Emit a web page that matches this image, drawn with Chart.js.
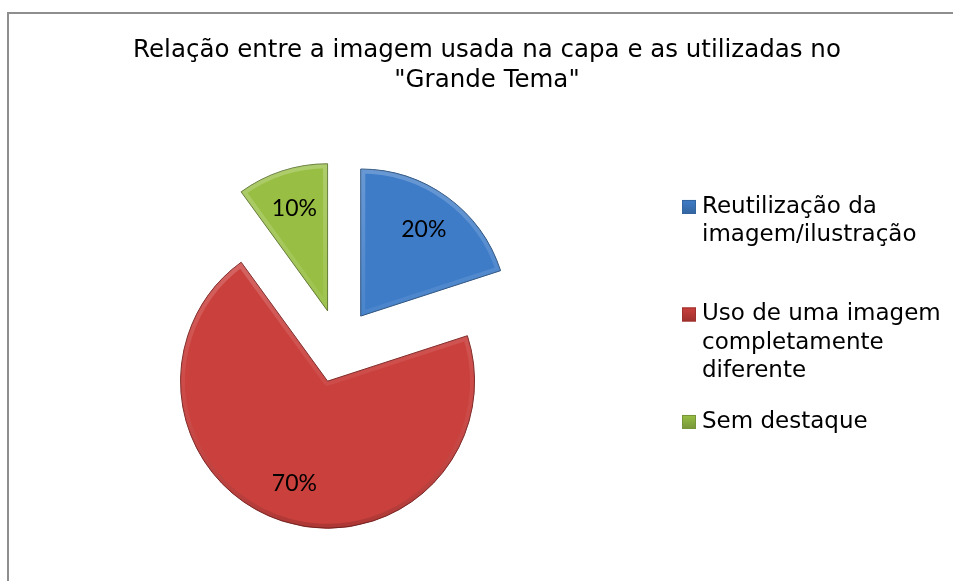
<!DOCTYPE html>
<html><head><meta charset="utf-8">
<script src="https://cdn.jsdelivr.net/npm/chart.js@4.4.1/dist/chart.umd.min.js"></script>
<style>
html,body{margin:0;padding:0;background:#fff;overflow:hidden;width:953px;height:581px;}
#frame{position:absolute;left:7px;top:12px;width:1000px;height:700px;border-left:2px solid #8e8e8e;border-top:2px solid #8e8e8e;}
#c{position:absolute;left:0;top:0;}
</style></head><body>
<div id="frame"></div>
<canvas id="c" width="953" height="581"></canvas>
<script>
// ---- data ----
const titleLines = ['Relação entre a imagem usada na capa e as utilizadas no', '"Grande Tema"'];
const categories = [
  ['Reutilização da', 'imagem/ilustração'],
  ['Uso de uma imagem', 'completamente', 'diferente'],
  ['Sem destaque']
];
const percentValues = [20, 70, 10];
// ---- styles ----
const sliceColors = ['#3E7CC8', '#CA403D', '#98BF43'];
const sliceBorders = ['#33659f', '#9e302d', '#76953a'];

const EXPLODE = 37;
const LEGEND_WIDTH = 296;
const LEGEND_FONT = '23px "DejaVu Sans"';
const LEGEND_LINE = 28.5;

const explodePlugin = {
  id: 'explode',
  afterDatasetsUpdate(chart) {
    chart.getDatasetMeta(0).data.forEach(el => {
      const mid = (el.startAngle + el.endAngle) / 2;
      el.x += Math.cos(mid) * EXPLODE;
      el.y += Math.sin(mid) * EXPLODE;
    });
  }
};

const bevelPlugin = {
  id: 'bevel',
  afterDatasetsDraw(chart) {
    const ctx = chart.ctx;
    chart.getDatasetMeta(0).data.forEach(el => {
      const path = () => {
        ctx.beginPath();
        ctx.moveTo(el.x, el.y);
        ctx.arc(el.x, el.y, el.outerRadius, el.startAngle, el.endAngle);
        ctx.closePath();
      };
      ctx.save();
      path();
      ctx.clip();
      const g = ctx.createLinearGradient(0, el.y - el.outerRadius, 0, el.y + el.outerRadius);
      g.addColorStop(0, 'rgba(255,255,255,0.22)');
      g.addColorStop(0.5, 'rgba(255,255,255,0.06)');
      g.addColorStop(1, 'rgba(0,0,0,0.14)');
      ctx.strokeStyle = g;
      ctx.lineJoin = 'round';
      ctx.lineWidth = 9;
      path();
      ctx.stroke();
      ctx.restore();
      ctx.save();
      ctx.strokeStyle = 'rgba(0,0,0,0.2)';
      ctx.lineWidth = 1;
      path();
      ctx.stroke();
      ctx.restore();
    });
  }
};

const labelPlugin = {
  id: 'pctLabels',
  afterDatasetsDraw(chart) {
    const ctx = chart.ctx;
    const values = chart.data.datasets[0].data;
    ctx.save();
    ctx.font = '23px Lato';
    ctx.fillStyle = '#000';
    ctx.textAlign = 'center';
    ctx.textBaseline = 'middle';
    chart.getDatasetMeta(0).data.forEach((el, i) => {
      const mid = (el.startAngle + el.endAngle) / 2;
      const r = el.outerRadius * 0.73;
      ctx.fillText(values[i] + '%', el.x + Math.cos(mid) * r, el.y + Math.sin(mid) * r);
    });
    ctx.restore();
  }
};

const legendPlugin = {
  id: 'sideLegend',
  beforeInit(chart) {
    const box = {
      position: 'right', weight: 1000, fullSize: false,
      options: { stack: undefined, stackWeight: 1 },
      width: 0, height: 0, left: 0, top: 0, right: 0, bottom: 0,
      isHorizontal() { return false; },
      getPadding() { return { top: 0, left: 0, right: 0, bottom: 0 }; },
      update(maxW, maxH) { this.width = LEGEND_WIDTH; this.height = maxH; },
      draw() {
        const ctx = chart.ctx;
        const ds = chart.data.datasets[0];
        ctx.save();
        ctx.font = LEGEND_FONT;
        ctx.textBaseline = 'middle';
        ctx.textAlign = 'left';
        let y = chart.chartArea.top + 96;
        const x = this.left + 25;
        chart.data.labels.forEach((lines, i) => {
          const g = ctx.createLinearGradient(0, y - 7, 0, y + 7);
          g.addColorStop(0, ds.backgroundColor[i]);
          g.addColorStop(1, ds.borderColor[i]);
          ctx.fillStyle = g;
          ctx.fillRect(x, y - 7, 14, 14);
          ctx.strokeStyle = ds.borderColor[i];
          ctx.lineWidth = 1;
          ctx.strokeRect(x + 0.5, y - 6.5, 13, 13);
          ctx.fillStyle = '#000';
          lines.forEach((t, k) => ctx.fillText(t, x + 20, y + k * LEGEND_LINE));
          y += Math.max(lines.length, 3) * LEGEND_LINE + 22;
        });
        ctx.restore();
      }
    };
    Chart.layouts.addBox(chart, box);
  }
};

new Chart(document.getElementById('c'), {
  type: 'pie',
  data: {
    labels: categories,
    datasets: [{
      data: percentValues,
      backgroundColor: sliceColors,
      borderColor: sliceBorders,
      borderWidth: 1
    }]
  },
  options: {
    responsive: false,
    animation: false,
    events: [],
    radius: 147,
    layout: { padding: { left: 21, right: 0, top: 0, bottom: 0 } },
    plugins: {
      legend: { display: false },
      tooltip: { enabled: false },
      title: {
        display: true,
        text: titleLines,
        color: '#000',
        font: { family: '"DejaVu Sans"', size: 24.5, weight: 'normal', lineHeight: 1.224 },
        padding: { top: 36, bottom: 15 }
      }
    }
  },
  plugins: [explodePlugin, bevelPlugin, labelPlugin, legendPlugin]
});
</script>
</body></html>
